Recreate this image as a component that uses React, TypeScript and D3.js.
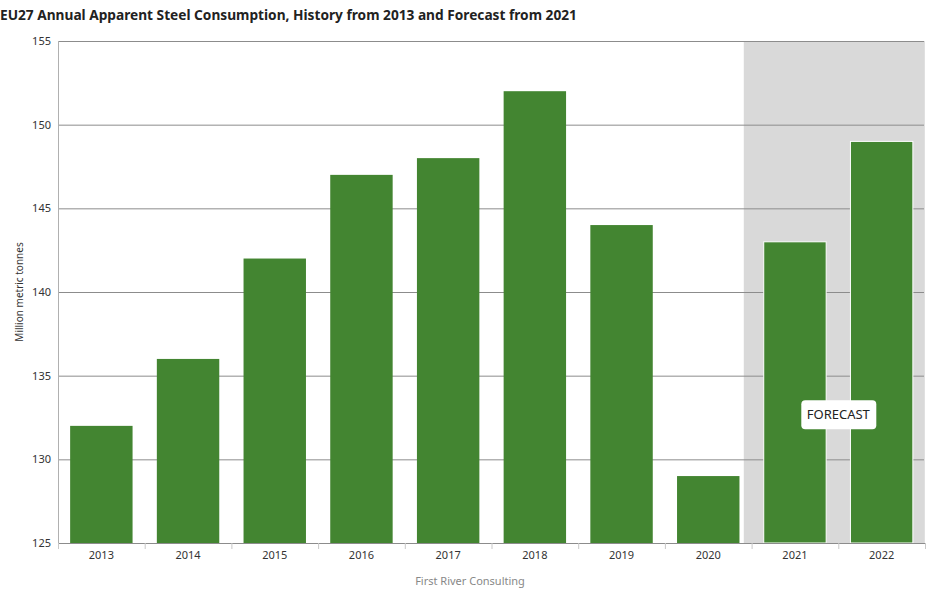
import React from "react";
import * as d3 from "d3";

const years = ["2013", "2014", "2015", "2016", "2017", "2018", "2019", "2020", "2021", "2022"];
const consumption = [132, 136, 142, 147, 148, 152, 144, 129, 143, 149];
const forecastYears = ["2021", "2022"];
const yTicks = [125, 130, 135, 140, 145, 150, 155];

const width = 940;
const height = 600;
const margin = { top: 41, right: 15, bottom: 57, left: 58 };
const font = "'Noto Sans', 'Open Sans', sans-serif";

export default function App() {
  const innerW = width - margin.left - margin.right;
  const innerH = height - margin.top - margin.bottom;

  const x = d3.scaleBand<string>().domain(years).range([0, innerW]).paddingInner(0.28).paddingOuter(0.14);
  const y = d3.scaleLinear().domain([125, 155]).range([innerH, 0]);
  const step = x.step();
  // forecast band starts a little before the 2021 category boundary
  const shadeStart = step * 7.91;
  const labelX = step * 9;
  const labelY = y(132.7);

  return (
    <div style={{ position: "absolute", left: 0, top: 0 }}>
      <svg width={width} height={height} style={{ fontFamily: font, display: "block" }}>
        <rect width={width} height={height} fill="#fff" />
        <text x={0} y={20} fontSize={13.7} fontWeight="bold" fill="#222">
          EU27 Annual Apparent Steel Consumption, History from 2013 and Forecast from 2021
        </text>
        <g transform={`translate(${margin.left},${margin.top})`}>
          <rect x={shadeStart} y={0} width={innerW - shadeStart} height={innerH} fill="#d9d9d9" />
          {yTicks.map((t) => (
            <line key={t} x1={0} x2={innerW} y1={y(t) + 0.5} y2={y(t) + 0.5} stroke="#8c8c8c" strokeWidth={1} />
          ))}
          {yTicks.map((t) => (
            <text key={"l" + t} x={-7} y={y(t)} dy="0.35em" textAnchor="end" fontSize={11} fill="#333">
              {t}
            </text>
          ))}
          <line x1={0.5} x2={0.5} y1={0} y2={innerH} stroke="#b0b0b0" />
          <line x1={innerW - 0.5} x2={innerW - 0.5} y1={0} y2={innerH} stroke="#e0e0e0" />
          {years.map((yr, i) => {
            const isF = forecastYears.includes(yr);
            return (
              <rect
                key={yr}
                x={x(yr)!}
                y={y(consumption[i])}
                width={x.bandwidth()}
                height={innerH - y(consumption[i])}
                fill="#438531"
                stroke={isF ? "#fff" : "none"}
                strokeWidth={1}
              />
            );
          })}
          <line x1={0} x2={innerW} y1={innerH + 0.5} y2={innerH + 0.5} stroke="#8c8c8c" />
          {d3.range(years.length + 1).map((i) => (
            <line key={"t" + i} x1={i * step + 0.5} x2={i * step + 0.5} y1={innerH} y2={innerH + 6} stroke="#c8c8c8" />
          ))}
          {years.map((yr) => (
            <text key={"x" + yr} x={x(yr)! + x.bandwidth() / 2} y={innerH + 16} textAnchor="middle" fontSize={11} fill="#333">
              {yr}
            </text>
          ))}
          <rect x={labelX - 37} y={labelY - 14} width={75} height={29} rx={4} fill="#fff" />
          <text x={labelX} y={labelY} dy="0.35em" textAnchor="middle" fontSize={13} fill="#222">
            FORECAST
          </text>
          <text
            transform={`translate(${-35},${innerH / 2}) rotate(-90)`}
            textAnchor="middle"
            fontSize={10}
            fill="#333"
          >
            Million metric tonnes
          </text>
        </g>
        <text x={width / 2} y={height - margin.bottom + 42} textAnchor="middle" fontSize={11} fill="#888">
          First River Consulting
        </text>
      </svg>
    </div>
  );
}
